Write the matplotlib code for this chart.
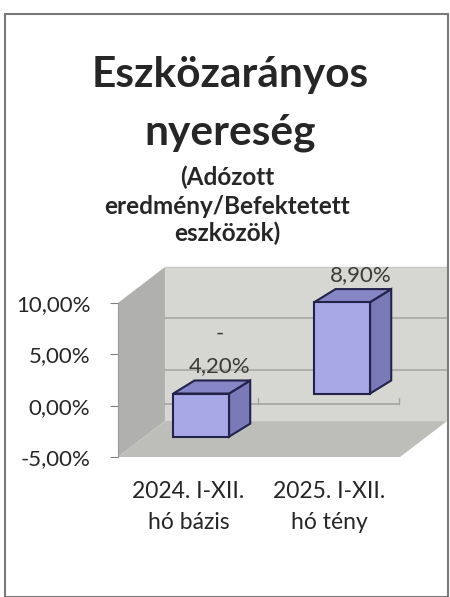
import matplotlib
matplotlib.use("Agg")
import matplotlib.pyplot as plt
from matplotlib.patches import Polygon, Rectangle

plt.rcParams['font.family'] = ['Lato', 'DejaVu Sans']

title_lines = ['Eszközarányos', 'nyereség']
subtitle_lines = ['(Adózott', 'eredmény/Befektetett', 'eszközök)']
categories = ['2024. I-XII.\nhó bázis', '2025. I-XII.\nhó tény']
values = [-4.20, 8.90]
y_ticks = [-5, 0, 5, 10]

# pseudo 3D geometry (data units)
wall_dx, wall_dy = 0.333, 3.5
bar_dx0, bar_dy0 = 0.09, 1.18
bar_ddx, bar_ddy = 0.15, 1.27
bar_w = 0.395

fig = plt.figure(figsize=(4.5, 5.97), dpi=100)
ax = fig.add_axes([118 / 450, 140 / 597, 329 / 450, 202 / 597])
ax.set_xlim(0, 2.333)
ax.set_ylim(-5, 14.67)
ax.patch.set_visible(False)

ymin, ymax = y_ticks[0], y_ticks[-1]
xmax = len(categories)

# walls
back = Polygon([(wall_dx, ymin + wall_dy), (xmax + wall_dx, ymin + wall_dy),
                (xmax + wall_dx, ymax + wall_dy), (wall_dx, ymax + wall_dy)],
               closed=True, facecolor='#d6d6d2', edgecolor='none', zorder=1)
side = Polygon([(0, ymin), (0, ymax), (wall_dx, ymax + wall_dy), (wall_dx, ymin + wall_dy)],
               closed=True, facecolor='#b0b0ae', edgecolor='none', zorder=1)
floor = Polygon([(0, ymin), (xmax, ymin), (xmax + wall_dx, ymin + wall_dy), (wall_dx, ymin + wall_dy)],
                closed=True, facecolor='#bdbdba', edgecolor='none', zorder=1)
for p in (back, side, floor):
    ax.add_patch(p)
for t in y_ticks[1:-1]:
    ax.plot([wall_dx, xmax + wall_dx], [t + wall_dy, t + wall_dy], color='#a8a8a4', lw=1.2, zorder=2)
ax.plot([wall_dx, xmax + wall_dx], [ymax + wall_dy, ymax + wall_dy], color='#c8c8c4', lw=1.0, zorder=2)

# category axis line in bar plane
ax.plot([wall_dx, xmax - 0.01], [0.2, 0.2], color='#a4a4a0', lw=1.2, zorder=2)
for i in range(1, xmax + 1):
    ax.plot([i - 0.01, i - 0.01], [0.2, 0.75], color='#a4a4a0', lw=1.0, zorder=2)

# bars
edge = '#22224a'
for i, v in enumerate(values):
    cx = i + 0.5 + bar_dx0
    x0, x1 = cx - bar_w / 2, cx + bar_w / 2
    yb, yt = bar_dy0 + min(v, 0), bar_dy0 + max(v, 0)
    side_face = Polygon([(x1, yb), (x1, yt), (x1 + bar_ddx, yt + bar_ddy), (x1 + bar_ddx, yb + bar_ddy)],
                        closed=True, facecolor='#7a7ab8', edgecolor=edge, lw=1.5, zorder=4)
    top_face = Polygon([(x0, yt), (x1, yt), (x1 + bar_ddx, yt + bar_ddy), (x0 + bar_ddx, yt + bar_ddy)],
                       closed=True, facecolor='#8686c6', edgecolor=edge, lw=1.5, zorder=4)
    front = Rectangle((x0, yb), bar_w, yt - yb, facecolor='#a8a8e6', edgecolor=edge, lw=1.5, zorder=5)
    for p in (side_face, top_face, front):
        ax.add_patch(p)
    ly = yt + bar_ddy + 1.4
    ax.text(cx + 0.13, ly, f'{abs(v):.2f}%'.replace('.', ','), ha='center', va='center',
            fontsize=16, color='#3a3a3a', zorder=6, clip_on=False)
    if v < 0:
        ax.text(cx + 0.13, ly + 3.2, '-', ha='center', va='center',
                fontsize=16, color='#3a3a3a', zorder=6, clip_on=False)

# axes styling
for s in ('top', 'right', 'bottom'):
    ax.spines[s].set_visible(False)
ax.spines['left'].set_bounds(ymin, ymax)
ax.spines['left'].set_color('#9a9a9a')
ax.set_yticks(y_ticks)
ax.set_yticklabels([f'{t:.2f}%'.replace('.', ',') for t in y_ticks])
ax.tick_params(axis='y', length=6, color='#808080', pad=14, labelsize=16, labelcolor='#262626')
ax.set_xticks([i + 0.5 for i in range(len(categories))])
ax.set_xticklabels(categories, linespacing=1.6)
ax.tick_params(axis='x', length=0, pad=17, labelsize=16.5, labelcolor='#262626')

# titles
fig.text(230 / 450, 1 - 75 / 597, title_lines[0], ha='center', va='center',
         fontsize=30.5, fontweight='bold', color='#262626')
fig.text(230 / 450, 1 - 133 / 597, title_lines[1], ha='center', va='center',
         fontsize=30.5, fontweight='bold', color='#262626')
for line, yp in zip(subtitle_lines, [177, 206, 233]):
    fig.text(227 / 450, 1 - yp / 597, line, ha='center', va='center',
             fontsize=17.5, fontweight='bold', color='#262626')

# frame
fig.add_artist(Rectangle((5 / 450, 0), 443 / 450, 583 / 597, transform=fig.transFigure,
                         fill=False, edgecolor='#7a7a7a', lw=1.5))

fig.savefig('out.png', dpi=100)
